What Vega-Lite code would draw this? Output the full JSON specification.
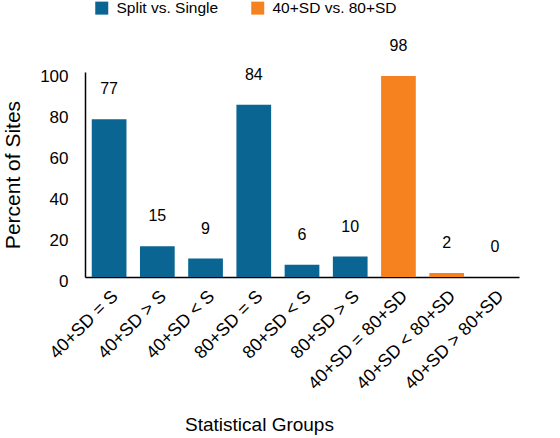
{
  "$schema": "https://vega.github.io/schema/vega-lite/v6.json",
  "autosize": {"type": "none"},
  "width": 434,
  "height": 205,
  "padding": {"left": 85, "top": 72, "right": 41, "bottom": 161},
  "background": "white",
  "config": {
    "view": {"stroke": null},
    "font": "Liberation Sans",
    "axis": {"labelFont": "Liberation Sans", "titleFont": "Liberation Sans", "labelColor": "black", "titleColor": "black", "titleFontWeight": "normal"},
    "legend": {"labelFont": "Liberation Sans"}
  },
  "data": {
    "values": [
      {"group": "40+SD = S", "percent": 77, "comparison": "Split vs. Single"},
      {"group": "40+SD > S", "percent": 15, "comparison": "Split vs. Single"},
      {"group": "40+SD < S", "percent": 9, "comparison": "Split vs. Single"},
      {"group": "80+SD = S", "percent": 84, "comparison": "Split vs. Single"},
      {"group": "80+SD < S", "percent": 6, "comparison": "Split vs. Single"},
      {"group": "80+SD > S", "percent": 10, "comparison": "Split vs. Single"},
      {"group": "40+SD = 80+SD", "percent": 98, "comparison": "40+SD vs. 80+SD"},
      {"group": "40+SD < 80+SD", "percent": 2, "comparison": "40+SD vs. 80+SD"},
      {"group": "40+SD > 80+SD", "percent": 0, "comparison": "40+SD vs. 80+SD"}
    ]
  },
  "encoding": {
    "x": {
      "field": "group",
      "type": "nominal",
      "sort": null,
      "scale": {"paddingInner": 0.28, "paddingOuter": 0.14},
      "axis": {
        "title": "Statistical Groups",
        "titleFontSize": 19,
        "titleX": 174,
        "titlePadding": 23,
        "labelAngle": -45,
        "labelFontSize": 18,
        "labelPadding": 10,
        "ticks": false,
        "domainColor": "black",
        "domainWidth": 1.5
      }
    },
    "y": {
      "field": "percent",
      "type": "quantitative",
      "scale": {"domain": [0, 100]},
      "axis": {
        "title": "Percent of Sites",
        "titleFontSize": 21,
        "titlePadding": 16,
        "values": [0, 20, 40, 60, 80, 100],
        "labelFontSize": 17,
        "labelOffset": 4,
        "labelPadding": 17,
        "ticks": false,
        "grid": false,
        "domainColor": "black",
        "domainWidth": 1.5
      }
    }
  },
  "layer": [
    {
      "mark": {"type": "bar"},
      "encoding": {
        "color": {
          "field": "comparison",
          "type": "nominal",
          "sort": ["Split vs. Single", "40+SD vs. 80+SD"],
          "scale": {"domain": ["Split vs. Single", "40+SD vs. 80+SD"], "range": ["#0b6593", "#f5821f"]},
          "legend": {
            "title": null,
            "orient": "none",
            "direction": "horizontal",
            "legendX": 9,
            "legendY": -72,
            "symbolType": "square",
            "symbolSize": 169,
            "symbolStrokeWidth": 0,
            "labelFontSize": 15.5,
            "labelOffset": 7,
            "columnPadding": 31
          }
        }
      }
    },
    {
      "mark": {"type": "text", "baseline": "middle", "dy": -30, "fontSize": 16, "color": "black"},
      "encoding": {"text": {"field": "percent", "type": "quantitative"}}
    }
  ]
}
